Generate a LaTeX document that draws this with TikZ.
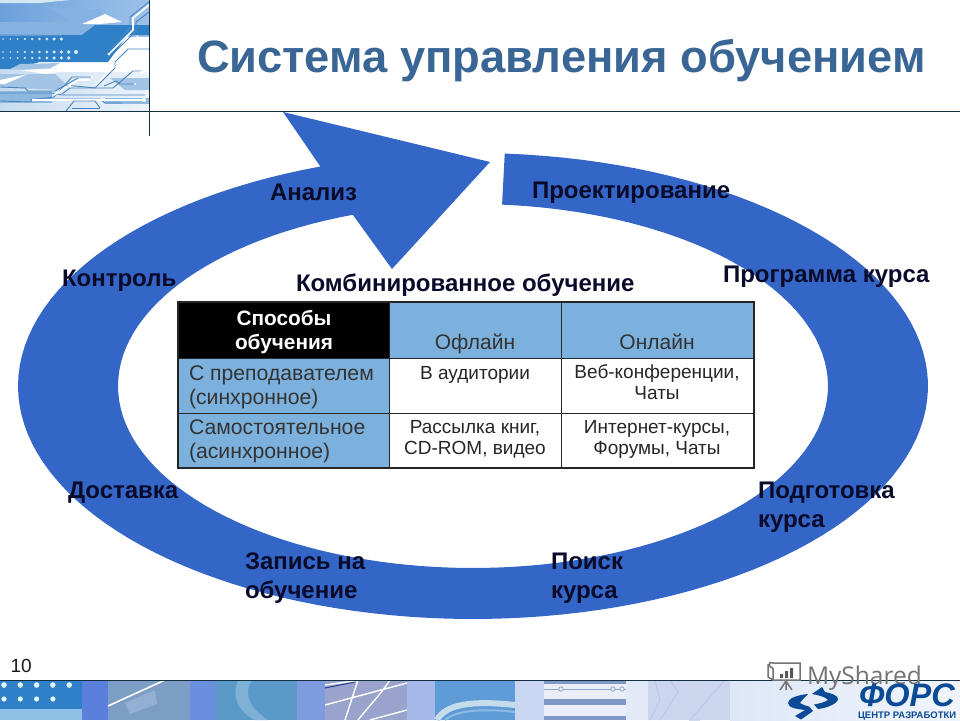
\documentclass[tikz,border=0pt]{standalone}
\usepackage{fontspec}
\setmainfont{Liberation Sans}
\newfontfamily\wmfont{Open Sans}
\definecolor{ringblue}{HTML}{3366C6}
\definecolor{titleblue}{HTML}{3A6696}
\definecolor{cellblue}{HTML}{7DB1DD}
\definecolor{inkdark}{HTML}{0A0A2A}
\definecolor{rulecol}{HTML}{12303F}
\definecolor{dotblue}{HTML}{2F80C6}
\definecolor{logoblue}{HTML}{0B4A94}
\definecolor{hdrtopl}{HTML}{6CA0DA}
\definecolor{hdrtopr}{HTML}{9CC2EA}
\definecolor{hdrlowl}{HTML}{C5DCF0}
\definecolor{hdrlowr}{HTML}{EDF3FA}
\definecolor{hdrmid}{HTML}{86B2E2}
\definecolor{hdrsoft}{HTML}{A4C4E6}
\definecolor{hdrpale}{HTML}{D5E6F5}
\definecolor{hdrtrace}{HTML}{4C86C0}
\definecolor{hdrbar}{HTML}{8DB9DF}
\definecolor{footlight}{HTML}{8FC0E6}
\definecolor{HTML5B7FDC}{HTML}{5B7FDC}
\definecolor{HTML7C9EC4}{HTML}{7C9EC4}
\definecolor{HTML93B0D4}{HTML}{93B0D4}
\definecolor{HTML6A8FDF}{HTML}{6A8FDF}
\definecolor{HTML5B9AC8}{HTML}{5B9AC8}
\definecolor{HTML7FB0D6}{HTML}{7FB0D6}
\definecolor{HTML7F9BE0}{HTML}{7F9BE0}
\definecolor{HTML9AA3CC}{HTML}{9AA3CC}
\definecolor{HTML2A3F8C}{HTML}{2A3F8C}
\definecolor{HTMLA6B8EA}{HTML}{A6B8EA}
\definecolor{HTML5F9BD6}{HTML}{5F9BD6}
\definecolor{HTMLC5DCEB}{HTML}{C5DCEB}
\definecolor{HTML8DBBE3}{HTML}{8DBBE3}
\definecolor{HTMLC8D6F2}{HTML}{C8D6F2}
\definecolor{HTMLE9EEF8}{HTML}{E9EEF8}
\definecolor{HTML7E99C7}{HTML}{7E99C7}
\definecolor{HTML8FA6CE}{HTML}{8FA6CE}
\definecolor{HTMLE3EAF7}{HTML}{E3EAF7}
\definecolor{HTMLCBD6EE}{HTML}{CBD6EE}
\definecolor{HTMLBAC7E6}{HTML}{BAC7E6}
\definecolor{HTMLDDE7F6}{HTML}{DDE7F6}
\definecolor{HTMLF0F5FB}{HTML}{F0F5FB}
\tikzset{
  every node/.style={inner sep=0pt, outer sep=0pt},
  ringlabel/.style={anchor=base west, align=left, text=inkdark, font=\fontsize{24}{29}\selectfont\bfseries},
  headtext/.style={anchor=base, align=center, text=white, font=\fontsize{20.8}{24}\selectfont\bfseries},
  coltext/.style={anchor=base, text=black!80, font=\fontsize{21}{24}\selectfont},
  rowtext/.style={anchor=base west, align=left, text=black!80, font=\fontsize{21.2}{23.5}\selectfont},
  celltext/.style={anchor=base, align=center, text=black!85, font=\fontsize{19}{21}\selectfont},
  trace/.style={draw=hdrtrace, line width=0.9pt},
  wtrace/.style={draw=white, line width=1.6pt},
}
\begin{document}
\begin{tikzpicture}[x=1pt,y=-1pt]
\useasboundingbox (0,0) rectangle (960,720);
\fill[white] (0,0) rectangle (960,720);

% ---------- header picture
\begin{scope}
\clip (0,0) rectangle (149,111);
\fill[left color=hdrlowl,right color=hdrlowr] (0,68) rectangle (149,111);
\fill[left color=hdrtopl,right color=hdrtopr] (0,0) rectangle (149,36);
\fill[hdrmid] (45,6) -- (100,10) -- (110,22) -- (75,24) -- (60,14) -- cycle;
\fill[hdrpale] (0,0) -- (70,0) -- (40,3) -- (0,3) -- cycle;
\fill[white] (82,24) -- (105,14) -- (122,22) -- (100,24) -- cycle;
\fill[hdrmid] (0,22) -- (80,22) -- (90,30) -- (85,35) -- (0,34) -- cycle;
% dark band
\fill[dotblue] (0,36) -- (82,35) -- (95,25) -- (149,25) -- (149,35) -- (128,35) -- (108,62) -- (40,62) -- (15,69) -- (0,69) -- cycle;
\foreach \yy/\n in {39/9,52/11,58/10}
  \foreach \i in {1,...,\n}
    \fill[hdrpale] ({3+7.3*(\i-1)},\yy) circle ({0.7+0.12*\i});
\fill[hdrsoft] (10,69) -- (20,64) -- (60,63) -- (45,71) -- cycle;
\fill[white] (20,70) -- (105,66) -- (135,60) -- (149,60) -- (149,72) -- (60,72) -- (45,74) -- cycle;
\fill[hdrsoft] (0,74) -- (55,74) -- (65,83) -- (58,90) -- (0,87) -- cycle;
\fill[white] (0,80) -- (28,74) -- (5,84) -- (0,84) -- cycle;
\fill[hdrbar] (0,91) rectangle (52,103);
\fill[hdrbar] (105,98) rectangle (149,104);
\fill[hdrsoft] (110,78) -- (149,78) -- (149,90) -- (125,90) -- cycle;
% circuit traces
\draw[wtrace] (149,5) -- (133,18) -- (133,30) -- (110,53);
\draw[trace] (149,2) -- (130,17) -- (130,28) -- (110,50);
\draw[trace] (149,12) -- (136,22) -- (136,31) -- (112,55);
\fill[white] (109,54) circle (1.7);
\draw[wtrace] (138,36) -- (110,64) -- (110,70) -- (96,85);
\draw[trace] (149,49) -- (128,49) -- (115,62) -- (115,68) -- (95,88) -- (65,85);
\draw[trace] (142,71) -- (133,71) -- (113,88) -- (70,88) -- (62,94);
\fill[white] (142,72) circle (1.8);
\draw[trace] (92,77) -- (72,77) -- (54,97) -- (30,100);
\fill[white] (92,77) circle (1.3);
\draw[trace] (135,84) -- (120,84) -- (116,81) -- (104,86);
\fill[white] (135,84) circle (1.1);
\draw[trace] (0,87) -- (25,88) -- (28,91) -- (55,91) -- (78,78);
\draw[trace] (0,93) -- (52,93) -- (62,95) -- (145,95);
\draw[wtrace] (54,95) -- (78,80) -- (90,80);
\draw[trace] (0,101) -- (30,102) -- (35,99) -- (100,99) -- (105,103) -- (122,103);
\draw[wtrace] (32,100) -- (145,100);
\fill[white] (144,100) circle (2);
\draw[trace] (66,111) -- (74,101) -- (95,101) -- (100,108);
\fill[white] (70,86) circle (1.5);
\draw[trace] (72,108) -- (100,108);
\end{scope}

% ---------- rules
\draw[rulecol,line width=0.9pt] (0,111) -- (960,111);
\draw[rulecol,line width=0.9pt] (149.5,0) -- (149.5,136);

\node[anchor=base west,text=titleblue,font=\fontsize{45.3}{48}\selectfont\bfseries] (title) at (197,72) {Система управления обучением};

% ---------- ring arrow
\fill[ringblue]
  plot[domain=-86:250.4,samples=140] ({473+455*cos(\x)},{386+233*sin(\x)})
  -- (283,112) -- (490,162) -- (392,269) -- (353,215)
  -- plot[domain=250.2:-85.3,samples=140] ({473+355*cos(\x)},{386+182*sin(\x)})
  -- cycle;

% ---------- ring labels
\node[ringlabel] (analiz) at (270,200) {Анализ};
\node[ringlabel] (proekt) at (532,198) {Проектирование};
\node[ringlabel] (progr) at (723,282) {Программа курса};
\node[ringlabel] (kontrol) at (62,286) {Контроль};
\node[ringlabel] (kombi) at (296,291) {Комбинированное обучение};
\node[ringlabel] (dostavka) at (68,498) {Доставка};
\node[ringlabel] (podgot) at (758,527) {Подготовка\\курса};
\node[ringlabel] (zapis) at (245,598) {Запись на\\обучение};
\node[ringlabel] (poisk) at (551,598) {Поиск\\курса};

% ---------- table
\fill[black] (178,302) rectangle (389,358);
\fill[cellblue] (389,302) rectangle (754,358);
\fill[cellblue] (178,358) rectangle (389,468);
\draw[black!85,line width=0.8pt] (389,302) -- (389,468) (561,302) -- (561,468)
   (178,358) -- (754,358) (178,413) -- (754,413);
\draw[black!85,line width=1.7pt] (178,302) rectangle (754,468);

\node[headtext] (sposob) at (284,349) {Способы\\обучения};
\node[coltext] (ofl) at (475,349) {Офлайн};
\node[coltext] (onl) at (657,349) {Онлайн};
\node[rowtext] (r1) at (189,404) {С преподавателем\\(синхронное)};
\node[rowtext] (r2) at (189,458) {Самостоятельное\\(асинхронное)};
\node[celltext] (c11) at (475,379) {В аудитории};
\node[celltext] (c12) at (657,399) {Веб-конференции,\\Чаты};
\node[celltext] (c21) at (475,454) {Рассылка книг,\\CD-ROM, видео};
\node[celltext] (c22) at (657,454) {Интернет-курсы,\\Форумы, Чаты};

\node[anchor=base west,text=black!90,font=\fontsize{19}{24}\selectfont] (num) at (10.5,672) {10};

% ---------- footer strip
\begin{scope}
\clip (0,680) rectangle (960,720);
\fill[dotblue] (0,680) rectangle (82,710);
\fill[footlight] (0,709) rectangle (82,720);
\foreach \i in {0,...,4} \fill[white!90!cyan] ({4+16.3*\i},685) circle (2.8);
\foreach \i in {0,...,3} \fill[white!90!cyan] ({4+16.3*\i},699) circle (2.6);
\fill[HTML5B7FDC] (82,680) rectangle (108,720);
\fill[HTML7C9EC4] (108,680) rectangle (190,720);
\fill[HTML93B0D4] (125,703) -- (155,690) -- (157,704) -- (130,714) -- cycle;
\draw[white,line width=1.6pt] (108,706) -- (165,680);
\fill[HTML6A8FDF] (190,680) rectangle (215,720);
\fill[HTML5B9AC8] (215,680) rectangle (297,720);
\fill[HTML7FB0D6] (238,680) .. controls (232,695) and (236,710) .. (255,720) -- (268,720) .. controls (245,705) and (245,690) .. (252,680) -- cycle;
\fill[HTML7F9BE0] (297,680) rectangle (325,720);
\fill[HTML9AA3CC] (325,680) rectangle (407,720);
\draw[HTML2A3F8C,line width=1pt] (325,688) -- (355,682);
\draw[white,line width=1.4pt] (325,685) -- (360,680) (325,705) -- (407,683) (370,720) -- (407,710)
  (345,720) -- (358,680) (358,720) .. controls (370,705) and (380,695) .. (390,680);
\fill[HTMLA6B8EA] (407,680) rectangle (435,720);
\fill[HTML5F9BD6] (435,680) rectangle (515,720);
\draw[HTMLC5DCEB,line width=6pt] (437,720) .. controls (445,705) and (470,700) .. (515,705);
\draw[HTML8DBBE3,line width=2pt] (445,720) .. controls (455,711) and (480,708) .. (515,712);
\fill[HTMLC8D6F2] (515,680) rectangle (544,720);
\fill[HTMLE9EEF8] (544,680) rectangle (626,720);
\foreach \yy/\h in {681/3,699/6,716/4} \fill[HTML7E99C7] (544,\yy) rectangle (626,\yy+\h);
\draw[HTML8FA6CE,line width=1pt] (544,689) -- (626,689);
\foreach \xx in {561,613,622} \draw[HTML8FA6CE,fill=HTMLE9EEF8,line width=.8pt] (\xx,689) circle (2.2);
\fill[HTMLE3EAF7] (626,680) rectangle (648,720);
\fill[HTMLCBD6EE] (648,680) rectangle (730,720);
\draw[HTMLBAC7E6,line width=1pt] (655,680) -- (660,700) -- (650,720) (670,680) -- (678,692) -- (660,720) (725,680) -- (690,720) -- (700,720);
\fill[left color=HTMLDDE7F6,right color=HTMLF0F5FB] (730,680) rectangle (960,720);
\end{scope}
\draw[rulecol,line width=0.9pt] (0,680.5) -- (960,680.5);

% ---------- watermark
\node[anchor=base west,text=black!55,font=\fontsize{24.5}{30}\wmfont] (wm) at (807,684) {MyShared};
\begin{scope}[draw=black!55,line width=1.5pt]
\draw (773,668) -- (773,680) -- (800,680) -- (800,663) -- (773,663) (773,663) .. controls (768,660) and (768,668) .. (773,668);
\draw (768,664) -- (768,677) -- (773,680);
\fill[black!65] (780,674) rectangle (783,678) (785,671) rectangle (788,678) (790,668) rectangle (793,678);
\draw (786,680) -- (786,690) (786,681) -- (780,690) (786,681) -- (792,690);
\end{scope}

% ---------- logo
\fill[logoblue] (808,694) .. controls (798,695) and (788,698) .. (788,703) .. controls (788,708) and (797,709) .. (805,710)
  -- (795,716) -- (801,719.5) -- (813,711) -- (809,706.5) .. controls (805,705.5) and (802,704.5) .. (800,703) .. controls (802,700) and (805,697) .. (808,694) -- cycle;
\fill[logoblue] (822,687) -- (812,694) .. controls (818,695) and (826,697) .. (828,700)
  .. controls (825,702) and (820,703.5) .. (814,704.5) -- (818,709) .. controls (828,708) and (838,703) .. (838,699)
  .. controls (838,695) and (830,693) .. (825,692) -- cycle;
\node[anchor=base west,text=logoblue,font=\fontsize{32.5}{34}\selectfont\bfseries\itshape] (fors) at (859,706) {ФОРС};
\node[anchor=base west,text=logoblue,font=\fontsize{9.5}{11}\selectfont\bfseries] (centr) at (858,718) {ЦЕНТР РАЗРАБОТКИ};
\end{tikzpicture}
\end{document}
